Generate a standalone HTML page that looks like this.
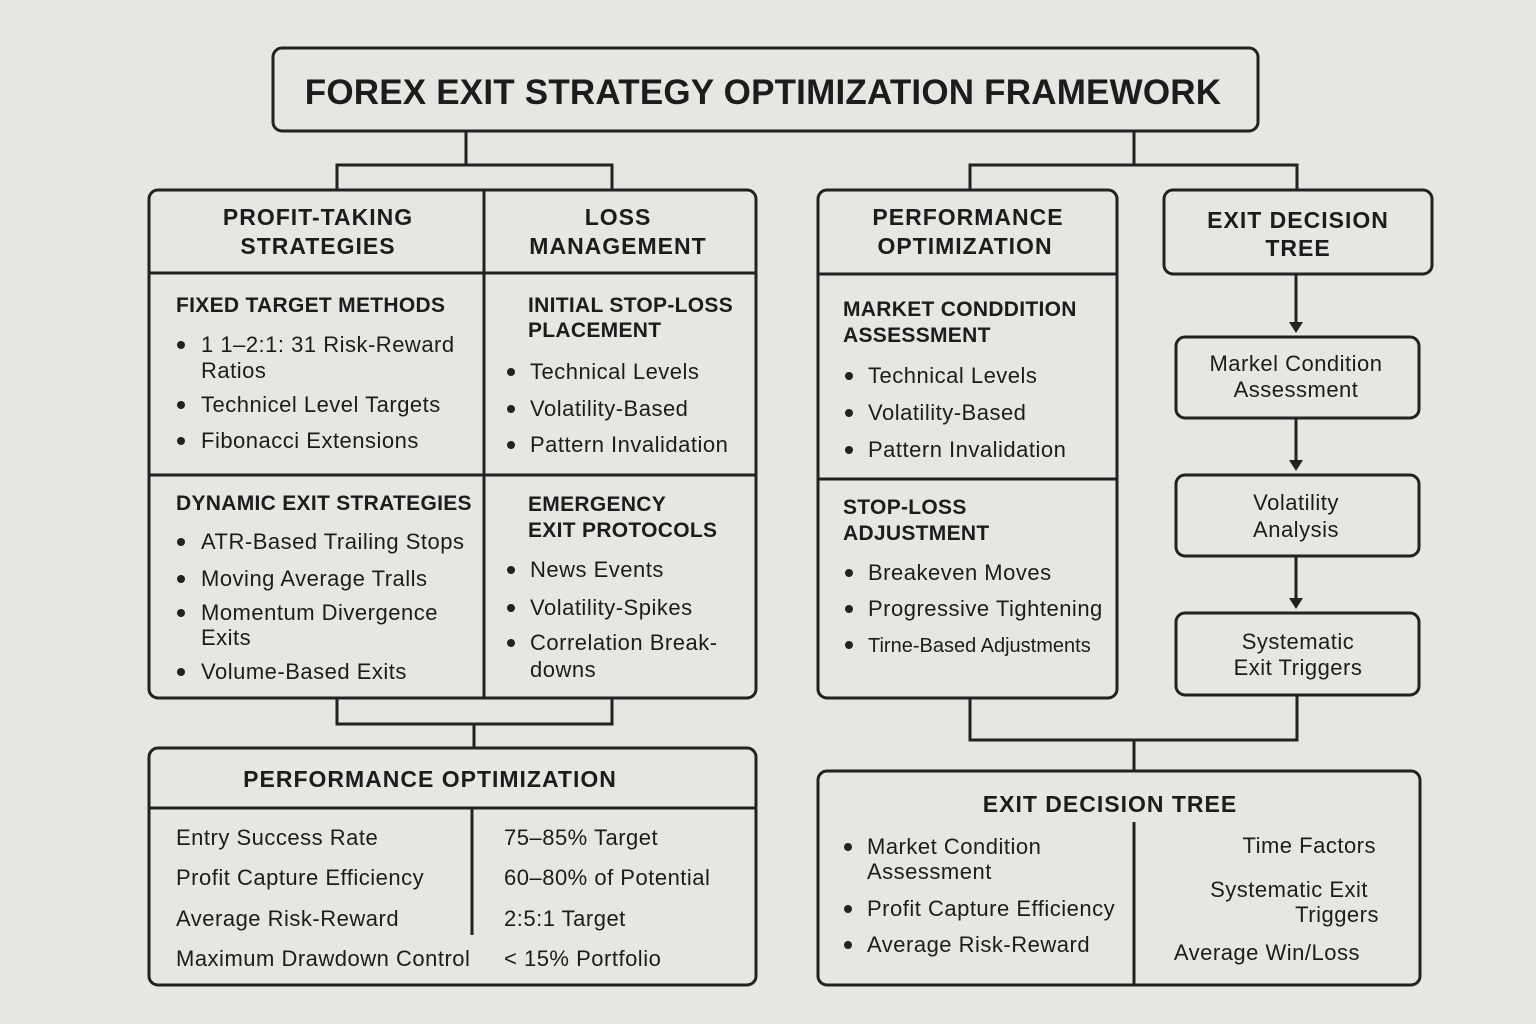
<!DOCTYPE html>
<html><head><meta charset="utf-8"><style>
html,body{margin:0;padding:0;background:#e8e6e2;}
svg{display:block}
text{font-family:"Liberation Sans",sans-serif;fill:#1c1c1c}
.h{font-weight:bold;font-size:23px;letter-spacing:1px}
.s{font-weight:bold;font-size:21px;letter-spacing:0.3px}
.b{font-size:22px;letter-spacing:0.5px}
</style></head><body>
<svg width="1536" height="1024" viewBox="0 0 1536 1024" xmlns="http://www.w3.org/2000/svg">
<rect width="1536" height="1024" fill="#e8e6e2"/>
<g fill="none" stroke="#222" stroke-width="3">
<rect x="273" y="48" width="985" height="83" rx="9"/>
<path d="M466 131V165M337 190V165H612V190"/>
<path d="M1134 131V165M970 190V165H1297V190"/>
<rect x="149" y="190" width="607" height="508" rx="9"/>
<path d="M484 190V698M149 273H756M149 475H756"/>
<rect x="818" y="190" width="299" height="508" rx="9"/>
<path d="M818 274H1117M818 479H1117"/>
<rect x="1164" y="190" width="268" height="84" rx="9"/>
<rect x="1176" y="337" width="243" height="81" rx="9"/>
<rect x="1176" y="475" width="243" height="81" rx="9"/>
<rect x="1176" y="613" width="243" height="82" rx="9"/>
<path d="M1296 274V326M1296 418V464M1296 556V602"/>
<path d="M337 698V724H612V698M474 724V748"/>
<path d="M970 698V740H1297V695M1134 740V771"/>
<rect x="149" y="748" width="607" height="237" rx="9"/>
<path d="M149 808H756M472 808V935"/>
<rect x="818" y="771" width="602" height="214" rx="9"/>
<path d="M1134 822V985"/>
</g>
<g fill="#222">
<path d="M1289 322L1303 322L1296 333Z"/>
<path d="M1289 460L1303 460L1296 471Z"/>
<path d="M1289 598L1303 598L1296 609Z"/>
<circle cx="181" cy="345" r="4"/><circle cx="181" cy="405" r="4"/><circle cx="181" cy="441" r="4"/>
<circle cx="511" cy="372" r="4"/><circle cx="511" cy="409" r="4"/><circle cx="511" cy="445" r="4"/>
<circle cx="181" cy="542" r="4"/><circle cx="181" cy="579" r="4"/><circle cx="181" cy="613" r="4"/><circle cx="181" cy="672" r="4"/>
<circle cx="511" cy="570" r="4"/><circle cx="511" cy="608" r="4"/><circle cx="511" cy="643" r="4"/>
<circle cx="849" cy="376" r="4"/><circle cx="849" cy="413" r="4"/><circle cx="849" cy="450" r="4"/>
<circle cx="849" cy="573" r="4"/><circle cx="849" cy="609" r="4"/><circle cx="849" cy="645" r="4"/>
<circle cx="848" cy="847" r="4"/><circle cx="848" cy="909" r="4"/><circle cx="848" cy="945" r="4"/>
</g>
<text x="763" y="104" text-anchor="middle" font-weight="bold" font-size="35" letter-spacing="0.2">FOREX EXIT STRATEGY OPTIMIZATION FRAMEWORK</text>
<g text-anchor="middle">
<text class="h" x="318" y="225">PROFIT-TAKING</text><text class="h" x="318" y="254">STRATEGIES</text>
<text class="h" x="618" y="225">LOSS</text><text class="h" x="618" y="254">MANAGEMENT</text>
<text class="h" x="968" y="225">PERFORMANCE</text><text class="h" x="965" y="254">OPTIMIZATION</text>
<text class="h" x="1298" y="228">EXIT DECISION</text><text class="h" x="1298" y="256">TREE</text>
<text class="h" x="430" y="787">PERFORMANCE OPTIMIZATION</text>
<text class="h" x="1110" y="812">EXIT DECISION TREE</text>
<text class="b" x="1296" y="371">Markel Condition</text><text class="b" x="1296" y="397">Assessment</text>
<text class="b" x="1296" y="510">Volatility</text><text class="b" x="1296" y="537">Analysis</text>
<text class="b" x="1298" y="649">Systematic</text><text class="b" x="1298" y="675">Exit Triggers</text>
</g>
<text class="s" x="176" y="312">FIXED TARGET METHODS</text>
<text class="b" x="201" y="352">1 1–2:1: 31 Risk-Reward</text>
<text class="b" x="201" y="378">Ratios</text>
<text class="b" x="201" y="412">Technicel Level Targets</text>
<text class="b" x="201" y="448">Fibonacci Extensions</text>
<text class="s" x="528" y="312">INITIAL STOP-LOSS</text>
<text class="s" x="528" y="337">PLACEMENT</text>
<text class="b" x="530" y="379">Technical Levels</text>
<text class="b" x="530" y="416">Volatility-Based</text>
<text class="b" x="530" y="452">Pattern Invalidation</text>
<text class="s" x="176" y="510">DYNAMIC EXIT STRATEGIES</text>
<text class="b" x="201" y="549">ATR-Based Trailing Stops</text>
<text class="b" x="201" y="586">Moving Average Tralls</text>
<text class="b" x="201" y="620">Momentum Divergence</text>
<text class="b" x="201" y="645">Exits</text>
<text class="b" x="201" y="679">Volume-Based Exits</text>
<text class="s" x="528" y="511">EMERGENCY</text>
<text class="s" x="528" y="537">EXIT PROTOCOLS</text>
<text class="b" x="530" y="577">News Events</text>
<text class="b" x="530" y="615">Volatility-Spikes</text>
<text class="b" x="530" y="650">Correlation Break-</text>
<text class="b" x="530" y="677">downs</text>
<text class="s" x="843" y="316">MARKET CONDDITION</text>
<text class="s" x="843" y="342">ASSESSMENT</text>
<text class="b" x="868" y="383">Technical Levels</text>
<text class="b" x="868" y="420">Volatility-Based</text>
<text class="b" x="868" y="457">Pattern Invalidation</text>
<text class="s" x="843" y="514">STOP-LOSS</text>
<text class="s" x="843" y="540">ADJUSTMENT</text>
<text class="b" x="868" y="580">Breakeven Moves</text>
<text class="b" x="868" y="616">Progressive Tightening</text>
<text x="868" y="652" style="font-size:20px;letter-spacing:0">Tirne-Based Adjustments</text>
<text class="b" x="176" y="845">Entry Success Rate</text>
<text class="b" x="176" y="885">Profit Capture Efficiency</text>
<text class="b" x="176" y="926">Average Risk-Reward</text>
<text class="b" x="176" y="966">Maximum Drawdown Control</text>
<text class="b" x="504" y="845">75–85% Target</text>
<text class="b" x="504" y="885">60–80% of Potential</text>
<text class="b" x="504" y="926">2:5:1 Target</text>
<text class="b" x="504" y="966">&lt; 15% Portfolio</text>
<text class="b" x="867" y="854">Market Condition</text>
<text class="b" x="867" y="879">Assessment</text>
<text class="b" x="867" y="916">Profit Capture Efficiency</text>
<text class="b" x="867" y="952">Average Risk-Reward</text>
<text class="b" x="1376" y="853" text-anchor="end">Time Factors</text>
<text class="b" x="1368" y="897" text-anchor="end">Systematic Exit</text>
<text class="b" x="1379" y="922" text-anchor="end">Triggers</text>
<text class="b" x="1360" y="960" text-anchor="end">Average Win/Loss</text>
</svg>
</body></html>
